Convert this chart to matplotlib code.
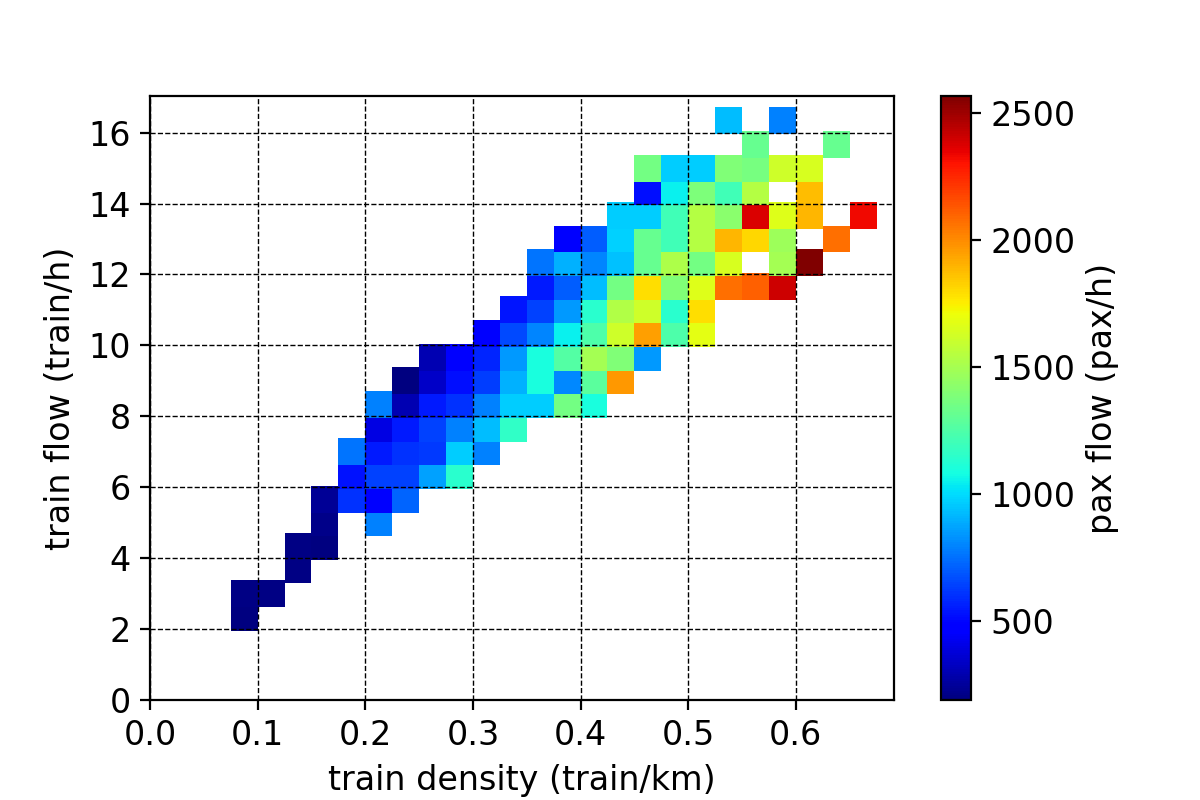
import matplotlib
matplotlib.use("Agg")
import matplotlib.pyplot as plt

# binned cells: density bin centre (train/km), flow bin centre (train/h), mean pax flow (pax/h)
density = [
    0.0875,
    0.0875, 0.1125,
    0.1375,
    0.1375, 0.1625,
    0.1625, 0.2125,
    0.1625, 0.1875, 0.2125, 0.2375,
    0.1875, 0.2125, 0.2375, 0.2625, 0.2875,
    0.1875, 0.2125, 0.2375, 0.2625, 0.2875, 0.3125,
    0.2125, 0.2375, 0.2625, 0.2875, 0.3125, 0.3375,
    0.2125, 0.2375, 0.2625, 0.2875, 0.3125, 0.3375, 0.3625, 0.3875, 0.4125,
    0.2375, 0.2625, 0.2875, 0.3125, 0.3375, 0.3625, 0.3875, 0.4125, 0.4375,
    0.2625, 0.2875, 0.3125, 0.3375, 0.3625, 0.3875, 0.4125, 0.4375, 0.4625,
    0.3125, 0.3375, 0.3625, 0.3875, 0.4125, 0.4375, 0.4625, 0.4875, 0.5125,
    0.3375, 0.3625, 0.3875, 0.4125, 0.4375, 0.4625, 0.4875, 0.5125,
    0.3625, 0.3875, 0.4125, 0.4375, 0.4625, 0.4875, 0.5125, 0.5375, 0.5625, 0.5875,
    0.3625, 0.3875, 0.4125, 0.4375, 0.4625, 0.4875, 0.5125, 0.5375, 0.5875, 0.6125,
    0.3875, 0.4125, 0.4375, 0.4625, 0.4875, 0.5125, 0.5375, 0.5625, 0.5875, 0.6375,
    0.4375, 0.4625, 0.4875, 0.5125, 0.5375, 0.5625, 0.5875, 0.6125, 0.6625,
    0.4625, 0.4875, 0.5125, 0.5375, 0.5625, 0.6125,
    0.4625, 0.4875, 0.5125, 0.5375, 0.5625, 0.5875, 0.6125,
    0.5625, 0.6375,
    0.5375, 0.5875,
]
flow = (
    [2.333] * 1 + [3.0] * 2 + [3.667] * 1 + [4.333] * 2 + [5.0] * 2
    + [5.667] * 4 + [6.333] * 5 + [7.0] * 6 + [7.667] * 6 + [8.333] * 9
    + [9.0] * 9 + [9.667] * 9 + [10.333] * 9 + [11.0] * 8 + [11.667] * 10
    + [12.333] * 10 + [13.0] * 10 + [13.667] * 9 + [14.333] * 6 + [15.0] * 7
    + [15.667] * 2 + [16.333] * 2
)
pax = [
    195,
    200, 200,
    200,
    200, 189,
    215, 784,
    236, 605, 470, 724,
    530, 641, 641, 860, 1140,
    760, 546, 605, 620, 962, 784,
    398, 546, 641, 784, 926, 1164,
    784, 294, 546, 605, 784, 962, 962, 1354, 1093,
    189, 346, 520, 630, 902, 1093, 810, 1280, 1970,
    294, 470, 570, 843, 1093, 1260, 1490, 1390, 843,
    470, 660, 800, 1045, 1240, 1616, 1950, 1240, 1680,
    540, 641, 843, 1140, 1530, 1616, 1140, 1790,
    546, 700, 926, 1354, 1790, 1390, 1660, 2067, 2110, 2400,
    760, 902, 800, 940, 1318, 1520, 1354, 1640, 1490, 2567,
    470, 700, 970, 1320, 1210, 1544, 1890, 1806, 1480, 2067,
    962, 962, 1210, 1544, 1420, 2380, 1664, 1890, 2330,
    521, 1050, 1378, 1210, 1544, 1877,
    1354, 962, 962, 1390, 1360, 1616, 1640,
    1318, 1318,
    926, 784,
]

plt.rcParams["font.size"] = 12

fig, ax = plt.subplots(figsize=(6, 4), dpi=200)
fig.subplots_adjust(bottom=0.125)

sc = ax.scatter(density, flow, c=pax, cmap="jet", marker="s", s=94, linewidths=0)
ax.set_xlim(left=0)
ax.set_ylim(bottom=0)
ax.grid(True, color="k", linestyle="--", linewidth=0.5)
ax.set_xlabel("train density (train/km)")
ax.set_ylabel("train flow (train/h)")

cb = fig.colorbar(sc, ax=ax)
cb.set_label("pax flow (pax/h)")

fig.savefig("out.png", dpi=200)
